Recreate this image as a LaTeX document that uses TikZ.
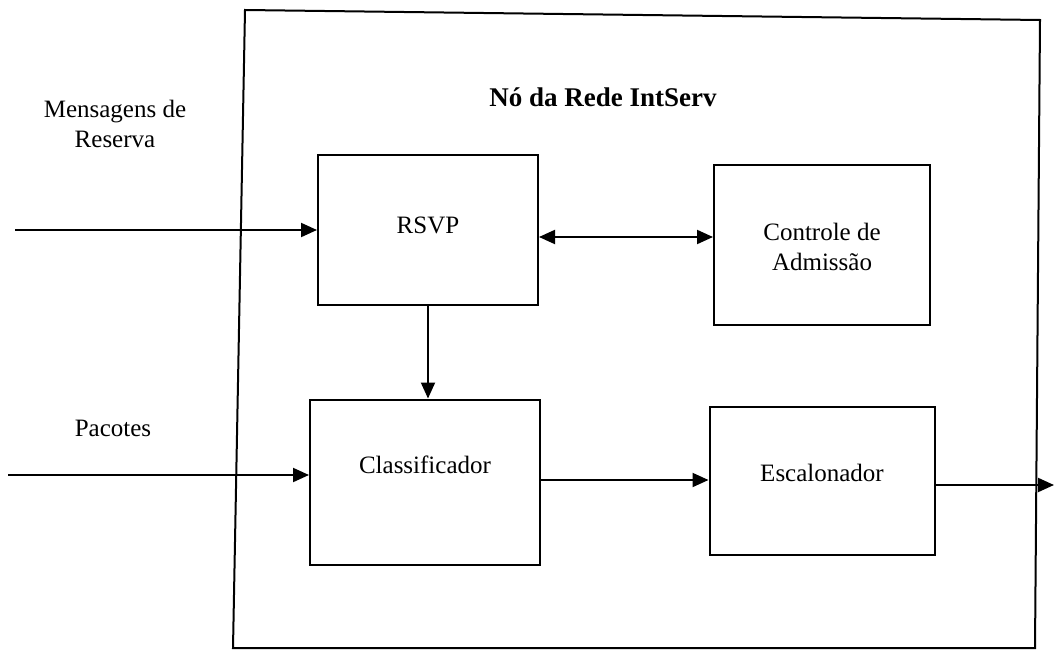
\documentclass[tikz,border=0pt]{standalone}
\usepackage{fontspec}
\setmainfont{Liberation Serif}
\usetikzlibrary{arrows.meta,calc}
\begin{document}
\begin{tikzpicture}[x=1pt,y=-1pt,
  every node/.style={font=\fontsize{25}{30}\selectfont},
  block/.style={draw,line width=2pt,inner sep=0pt},
  tip/.tip={Triangle[length=16pt,width=14pt]},
  flow/.style={line width=2pt,-tip},
  both/.style={line width=2pt,tip-tip},
  frame/.style={line width=2pt,line join=miter}]
\useasboundingbox (0,0) rectangle (1055,650);

% node boundary
\coordinate (f1) at (245,10);
\coordinate (f2) at (1040,20);
\coordinate (f3) at (1035,648);
\coordinate (f4) at (233,648);
\draw[frame] (f1) -- (f2) -- (f3) -- (f4) -- cycle;
\node[font=\fontsize{27}{30}\selectfont\bfseries] (title) at (603,97) {Nó da Rede IntServ};

% blocks
\node[block,minimum width=220pt,minimum height=150pt,
      label={[yshift=5pt]center:RSVP}] (rsvp) at (428,230) {};
\node[block,minimum width=216pt,minimum height=160pt,
      label={[align=center,yshift=-2pt]center:Controle de\\Admissão}] (adm) at (822,245) {};
\node[block,minimum width=230pt,minimum height=165pt,
      label={[yshift=17pt]center:Classificador}] (cls) at (425,482) {};
\node[block,minimum width=225pt,minimum height=148pt,
      label={[yshift=8pt]center:Escalonador}] (sch) at (822,481) {};

% external labels
\node[align=center] (msg) at (115,124) {Mensagens de\\Reserva};
\node (pkt) at (113,428) {Pacotes};

% connectors
\coordinate (in1) at (15,230);
\coordinate (in2) at (8,475);
\coordinate (lvl) at (0,237);
\coordinate (lvl2) at (0,480);
\coordinate (out) at (1054,485);

\draw[flow] (in1) -- (rsvp.west |- in1);
\draw[both] (rsvp.east |- lvl) -- (adm.west |- lvl);
\draw[flow] (rsvp.south) -- (rsvp.south |- cls.north);
\draw[flow] (in2) -- (cls.west |- in2);
\draw[flow] (cls.east |- lvl2) -- (sch.west |- lvl2);
\draw[flow] (sch.east |- out) -- (out);
\end{tikzpicture}
\end{document}
